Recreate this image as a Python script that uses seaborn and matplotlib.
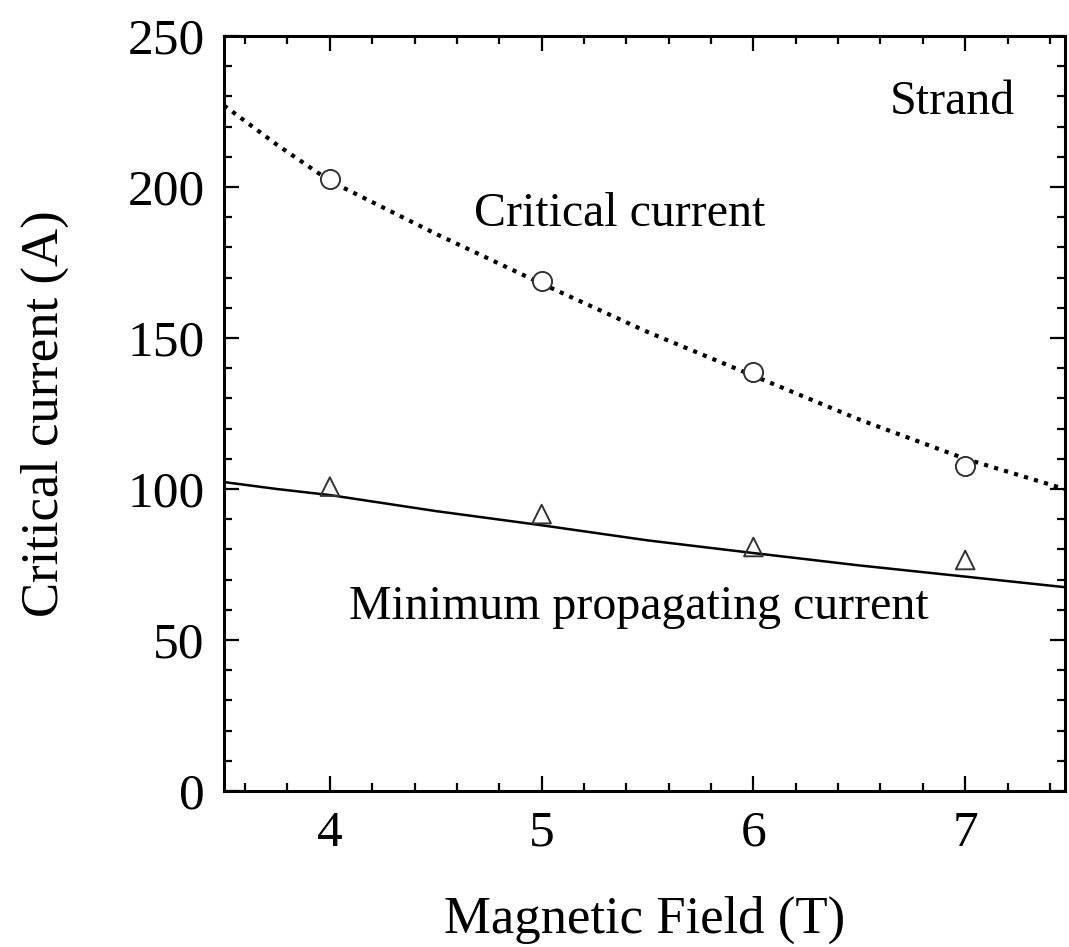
import numpy as np
import pandas as pd
import matplotlib as mpl
import matplotlib.pyplot as plt
from matplotlib.ticker import MultipleLocator
import seaborn as sns

# measured points
field_pts = [4, 5, 6, 7]
ic_pts = [202.6, 169.0, 138.8, 107.6]
imp_pts = [100.8, 91.7, 80.8, 76.5]

# fitted curves
field_fit = [3.5, 3.75, 4.0, 4.5, 5.0, 5.5, 6.0, 6.5, 7.0, 7.47]
ic_fit = [227.0, 214.0, 202.0, 184.5, 168.0, 152.0, 137.5, 123.0, 110.0, 100.0]
imp_fit = [102.3, 100.0, 98.0, 92.7, 88.0, 83.0, 78.8, 74.7, 71.0, 67.5]

sns.set_style("ticks")
mpl.rcParams["font.family"] = ["Liberation Serif", "DejaVu Serif"]
mpl.rcParams["text.color"] = "black"
mpl.rcParams["axes.labelcolor"] = "black"
mpl.rcParams["xtick.color"] = "black"
mpl.rcParams["ytick.color"] = "black"

pts = pd.DataFrame({"B": field_pts, "Ic": ic_pts, "Imp": imp_pts})
fit = pd.DataFrame({"B": field_fit, "Ic": ic_fit, "Imp": imp_fit})

fig = plt.figure(figsize=(10.69, 9.47), dpi=100)
ax = fig.add_axes([0.2095, 0.1647, 0.7865, 0.7973])

sns.lineplot(fit, x="B", y="Ic", ax=ax, color="black", linewidth=3.0,
             linestyle=(0, (1, 1.5)), sort=False)
sns.lineplot(fit, x="B", y="Imp", ax=ax, color="black", linewidth=1.8, sort=False)
sns.scatterplot(pts, x="B", y="Ic", ax=ax, marker="o", s=190,
                facecolor="white", edgecolor="#333333", linewidth=1.4, zorder=3)
sns.scatterplot(pts, x="B", y="Imp", ax=ax, marker="^", s=180,
                facecolor="none", edgecolor="#333333", linewidth=1.4, zorder=3)

ax.set_xlim(3.5, 7.47)
ax.set_ylim(0, 250)
ax.xaxis.set_major_locator(MultipleLocator(1))
ax.xaxis.set_minor_locator(MultipleLocator(0.2))
ax.yaxis.set_major_locator(MultipleLocator(50))
ax.yaxis.set_minor_locator(MultipleLocator(10))
ax.tick_params(which="both", direction="in", top=True, right=True,
               width=1.6, labelsize=37)
ax.tick_params(which="major", length=11, pad=14)
ax.tick_params(which="minor", length=6)
for sp in ax.spines.values():
    sp.set_linewidth(2.2)
    sp.set_color("black")

ax.set_xlabel("Magnetic Field (T)", fontsize=38, labelpad=28)
ax.set_ylabel("Critical current (A)", fontsize=38, labelpad=42)

ax.text(6.94, 228, "Strand", fontsize=34.5, ha="center", va="center")
ax.text(5.37, 191, "Critical current", fontsize=34.5, ha="center", va="center")
ax.text(5.46, 61, "Minimum propagating current", fontsize=34.5,
        ha="center", va="center")

fig.savefig("out.png", dpi=100)
